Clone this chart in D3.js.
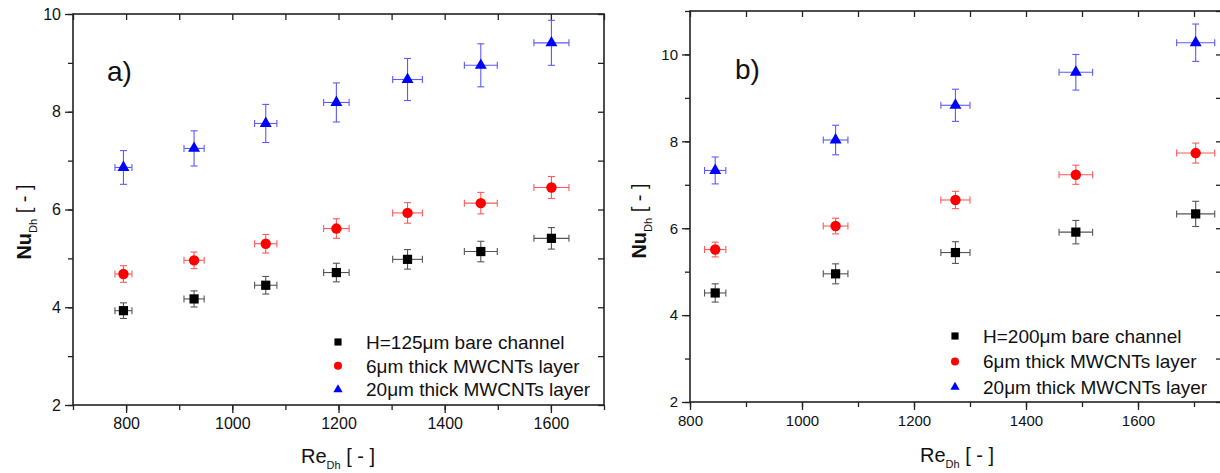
<!DOCTYPE html>
<html>
<head>
<meta charset="utf-8">
<script src="https://cdn.jsdelivr.net/npm/d3@7"></script>
<style>
  body { margin: 0; background: #fff; }
  text { font-family: Arial, "Liberation Sans", sans-serif; fill: #111; }
</style>
</head>
<body>
<script>
// ---- panel a) H = 125um channel ----
var reA      = [795, 928, 1063, 1196, 1330, 1468, 1601];
var reErrA   = [16, 19, 21, 24, 28, 31, 33];
var bareA    = [3.93, 4.17, 4.45, 4.71, 4.98, 5.14, 5.41];
var bareErrA = [0.16, 0.165, 0.18, 0.19, 0.2, 0.21, 0.22];
var cnt6A    = [4.68, 4.96, 5.30, 5.61, 5.93, 6.13, 6.45];
var cnt6ErrA = [0.17, 0.17, 0.19, 0.2, 0.21, 0.22, 0.225];
var cnt20A    = [6.86, 7.25, 7.76, 8.19, 8.66, 8.95, 9.41];
var cnt20ErrA = [0.345, 0.36, 0.39, 0.40, 0.43, 0.44, 0.46];

// ---- panel b) H = 200um channel ----
var reB      = [845, 1060, 1274, 1489, 1703];
var reErrB   = [19, 22, 26, 30, 34];
var bareB    = [4.51, 4.95, 5.44, 5.91, 6.33];
var bareErrB = [0.21, 0.23, 0.25, 0.27, 0.29];
var cnt6B    = [5.51, 6.05, 6.65, 7.23, 7.73];
var cnt6ErrB = [0.17, 0.18, 0.2, 0.22, 0.23];
var cnt20B    = [7.33, 8.03, 8.83, 9.59, 10.27];
var cnt20ErrB = [0.31, 0.34, 0.37, 0.41, 0.43];

var legendA = ['H=125\u03bcm bare channel', '6\u03bcm thick MWCNTs layer', '20\u03bcm thick MWCNTs layer'];
var legendB = ['H=200\u03bcm bare channel', '6\u03bcm thick MWCNTs layer', '20\u03bcm thick MWCNTs layer'];

var xTicksA = [800, 1000, 1200, 1400, 1600];
var xTicksB = [800, 1000, 1200, 1400, 1600];
var yTicksA = [2, 4, 6, 8, 10];
var yTicksB = [2, 4, 6, 8, 10];

var seriesStyle = [
  { shape: d3.symbolSquare,   size: 85, fill: '#000', err: '#555' },
  { shape: d3.symbolCircle,   size: 85, fill: '#ff0000', err: '#ff5a5a' },
  { shape: d3.symbolTriangle, size: 62, fill: '#0000ff', err: '#5a5aff' }
];

var svg = d3.select('body').append('svg')
  .attr('width', 1220)
  .attr('height', 473);

function drawPanel(p) {
  var x = d3.scaleLinear().domain(p.xDomain).range([p.left, p.right]);
  var y = d3.scaleLinear().domain(p.yDomain).range([p.bottom, p.top]);
  var g = svg.append('g');
  var fmt = d3.format('d');

  var xMinor = d3.range(p.xDomain[0], p.xDomain[1] + 1, 100);
  var yMinor = d3.range(p.yDomain[0], p.yDomain[1] + 0.01, 1);

  // bottom + left: outward ticks with labels
  g.append('g').attr('transform', 'translate(0,' + p.bottom + ')')
    .call(d3.axisBottom(x).tickValues(xMinor).tickSize(5).tickFormat('').tickSizeOuter(0));
  g.append('g').attr('transform', 'translate(0,' + p.bottom + ')')
    .call(d3.axisBottom(x).tickValues(p.xTicks).tickSize(8).tickPadding(5).tickFormat(fmt).tickSizeOuter(0))
    .selectAll('text').style('font-size', p.tickFont + 'px');
  g.append('g').attr('transform', 'translate(' + p.left + ',0)')
    .call(d3.axisLeft(y).tickValues(yMinor).tickSize(5).tickFormat('').tickSizeOuter(0));
  g.append('g').attr('transform', 'translate(' + p.left + ',0)')
    .call(d3.axisLeft(y).tickValues(p.yTicks).tickSize(8).tickPadding(4).tickFormat(fmt).tickSizeOuter(0))
    .selectAll('text').style('font-size', p.tickFont + 'px');

  // top + right: mirrored inward ticks
  g.append('g').attr('transform', 'translate(0,' + p.top + ')')
    .call(d3.axisTop(x).tickValues(xMinor).tickSize(-6).tickFormat('').tickSizeOuter(0));
  g.append('g').attr('transform', 'translate(' + p.right + ',0)')
    .call(d3.axisRight(y).tickValues(yMinor).tickSize(-6).tickFormat('').tickSizeOuter(0));

  g.selectAll('.domain').remove();
  g.selectAll('.tick line').attr('stroke', '#222').attr('stroke-width', 1.3);

  g.append('rect')
    .attr('x', p.left).attr('y', p.top)
    .attr('width', p.right - p.left).attr('height', p.bottom - p.top)
    .attr('fill', 'none').attr('stroke', '#222').attr('stroke-width', 1.6);

  // error bars + markers
  p.series.forEach(function(s, si) {
    var st = seriesStyle[si];
    var pts = s.values.map(function(v, i) {
      return { re: p.re[i], reErr: p.reErr[i], nu: v, nuErr: s.errs[i] };
    });
    var eb = g.append('g').attr('stroke', st.err).attr('stroke-width', 1.1).attr('fill', 'none');
    pts.forEach(function(d) {
      var cx = x(d.re), cy = y(d.nu);
      var y0 = y(d.nu - d.nuErr), y1 = y(d.nu + d.nuErr);
      var x0 = x(d.re - d.reErr), x1 = x(d.re + d.reErr);
      eb.append('line').attr('x1', cx).attr('x2', cx).attr('y1', y0).attr('y2', y1);
      eb.append('line').attr('x1', cx - 3.5).attr('x2', cx + 3.5).attr('y1', y0).attr('y2', y0);
      eb.append('line').attr('x1', cx - 3.5).attr('x2', cx + 3.5).attr('y1', y1).attr('y2', y1);
      eb.append('line').attr('x1', x0).attr('x2', x1).attr('y1', cy).attr('y2', cy);
      eb.append('line').attr('x1', x0).attr('x2', x0).attr('y1', cy - 3.5).attr('y2', cy + 3.5);
      eb.append('line').attr('x1', x1).attr('x2', x1).attr('y1', cy - 3.5).attr('y2', cy + 3.5);
    });
    g.selectAll('path.m' + si)
      .data(pts)
      .enter().append('path')
      .attr('class', 'm' + si)
      .attr('d', d3.symbol().type(st.shape).size(st.size))
      .attr('transform', function(d) { return 'translate(' + x(d.re) + ',' + y(d.nu) + ')'; })
      .attr('fill', st.fill);
  });

  // legend
  var lg = g.append('g');
  p.legend.forEach(function(label, i) {
    var st = seriesStyle[i];
    var ly = p.legendY + i * p.legendStep;
    lg.append('path')
      .attr('d', d3.symbol().type(st.shape).size(st.size * 0.6))
      .attr('transform', 'translate(' + p.legendX + ',' + ly + ')')
      .attr('fill', st.fill);
    lg.append('text')
      .attr('x', p.legendX + 28).attr('y', ly).attr('dy', '0.36em')
      .style('font-size', '19px')
      .text(label);
  });

  // panel letter
  g.append('text')
    .attr('x', p.letterX).attr('y', p.letterY)
    .style('font-size', '28px')
    .text(p.letter);

  // axis titles
  var xt = g.append('text')
    .attr('x', p.xTitleX).attr('y', p.xTitleY)
    .attr('text-anchor', 'middle')
    .style('font-size', '20px');
  xt.append('tspan').text('Re');
  xt.append('tspan').attr('dy', 6).style('font-size', '11px').text('Dh');
  xt.append('tspan').attr('dy', -6).text(' [ - ]');

  var yt = g.append('text')
    .attr('transform', 'translate(' + p.yTitleX + ',' + p.yTitleY + ') rotate(-90)')
    .attr('text-anchor', 'middle')
    .style('font-size', '20px');
  yt.append('tspan').style('font-weight', 'bold').text('Nu');
  yt.append('tspan').attr('dy', 6).style('font-size', '11px').text('Dh');
  yt.append('tspan').attr('dy', -6).text(' [ - ]');
}

drawPanel({
  left: 73, right: 604, top: 14, bottom: 405,
  xDomain: [700, 1700], yDomain: [2, 10],
  xTicks: xTicksA, yTicks: yTicksA, tickFont: 16,
  re: reA, reErr: reErrA,
  series: [
    { values: bareA, errs: bareErrA },
    { values: cnt6A, errs: cnt6ErrA },
    { values: cnt20A, errs: cnt20ErrA }
  ],
  legend: legendA, legendX: 338, legendY: 342, legendStep: 23.8,
  letter: 'a)', letterX: 107, letterY: 81,
  xTitleX: 338, xTitleY: 463, yTitleX: 31, yTitleY: 222
});

drawPanel({
  left: 690, right: 1222, top: 11, bottom: 402,
  xDomain: [800, 1750], yDomain: [2, 11],
  xTicks: xTicksB, yTicks: yTicksB, tickFont: 15,
  re: reB, reErr: reErrB,
  series: [
    { values: bareB, errs: bareErrB },
    { values: cnt6B, errs: cnt6ErrB },
    { values: cnt20B, errs: cnt20ErrB }
  ],
  legend: legendB, legendX: 955, legendY: 336, legendStep: 25.5,
  letter: 'b)', letterX: 735, letterY: 79,
  xTitleX: 957, xTitleY: 462, yTitleX: 646, yTitleY: 221
});
</script>
</body>
</html>
